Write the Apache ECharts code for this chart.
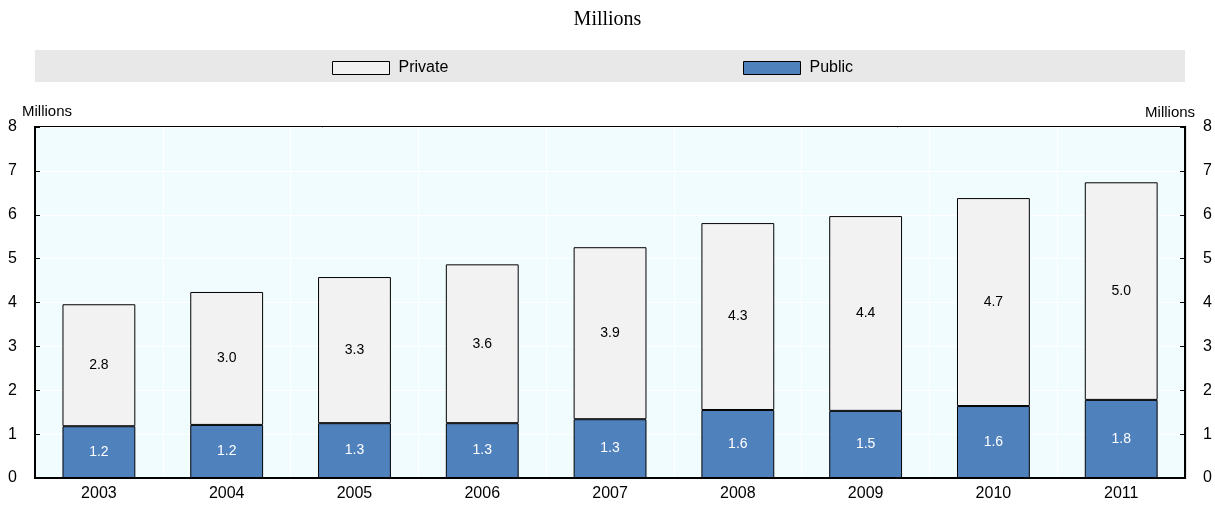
<!DOCTYPE html>
<html>
<head>
<meta charset="utf-8">
<script src="https://cdn.jsdelivr.net/npm/echarts@6/dist/echarts.min.js"></script>
<style>
	html, body { margin: 0; padding: 0; background: #fff; }
	#chart { width: 1215px; height: 505px; }
</style>
</head>
<body>
<div id="chart"></div>
<script>
const years = [ '2003', '2004', '2005', '2006', '2007', '2008', '2009', '2010', '2011' ];
const publicValues = [ 1.18, 1.21, 1.25, 1.25, 1.34, 1.55, 1.53, 1.64, 1.78 ];
const privateValues = [ 2.78, 3.03, 3.33, 3.62, 3.92, 4.26, 4.44, 4.74, 4.96 ];
const yTicks = [ 0, 1, 2, 3, 4, 5, 6, 7, 8 ];

const font = 'Liberation Sans, Arial, sans-serif';

const valueAxis = ( side ) => ( {
	type: 'value',
	position: side,
	min: yTicks[ 0 ],
	max: yTicks[ yTicks.length - 1 ],
	interval: 1,
	name: 'Millions',
	nameLocation: 'end',
	nameGap: 7,
	nameTextStyle: {
		fontFamily: font,
		fontSize: 15,
		color: '#000',
		align: side === 'left' ? 'left' : 'right',
		padding: side === 'left' ? [ 0, 0, 0, -13 ] : [ 0, -10, 0, 0 ]
	},
	axisLine: { show: true, lineStyle: { color: '#000', width: 2 } },
	axisTick: { show: true, inside: true, length: 5, lineStyle: { color: '#000', width: 1 } },
	axisLabel: { fontFamily: font, fontSize: 16, color: '#000', margin: 18 },
	splitLine: { show: side === 'left', lineStyle: { color: '#ffffff', width: 1 } }
} );

const legendFor = ( name, left ) => ( {
	data: [ name ],
	left,
	top: 55,
	icon: 'rect',
	itemWidth: 57,
	itemHeight: 13,
	itemGap: 9,
	itemStyle: { borderWidth: 1, borderColor: '#000' },
	textStyle: { fontFamily: font, fontSize: 16, color: '#000', padding: [ 0, 0, 0, 4 ] }
} );

const chart = echarts.init( document.getElementById( 'chart' ), null, { renderer: 'canvas' } );

chart.setOption( {
	animation: false,
	title: {
		text: 'Millions',
		left: 'center',
		top: 5,
		textStyle: { fontFamily: 'Liberation Serif, Times New Roman, serif', fontSize: 20, fontWeight: 'normal', color: '#000' }
	},
	graphic: [ {
		type: 'rect',
		left: 35,
		top: 50,
		shape: { width: 1150, height: 32 },
		style: { fill: '#e8e8e8' },
		z: -10
	} ],
	legend: [ legendFor( 'Private', 327 ), legendFor( 'Public', 738 ) ],
	grid: {
		left: 35,
		right: 25,
		top: 127,
		bottom: 27,
		show: true,
		backgroundColor: '#f0fcfe',
		borderColor: '#000',
		borderWidth: 2
	},
	xAxis: {
		type: 'category',
		data: years,
		axisLine: { show: true, lineStyle: { color: '#000', width: 2 } },
		axisTick: { show: false },
		axisLabel: { fontFamily: font, fontSize: 16, color: '#000', margin: 8 },
		splitLine: { show: true, lineStyle: { color: '#ffffff', width: 1 } }
	},
	yAxis: [ valueAxis( 'left' ), valueAxis( 'right' ) ],
	series: [ {
		name: 'Public',
		type: 'bar',
		stack: 'total',
		data: publicValues,
		barWidth: '57%',
		itemStyle: { color: '#4f81bd', borderColor: '#000', borderWidth: 1 },
		label: {
			show: true,
			position: 'inside',
			color: '#fff',
			fontFamily: font,
			fontSize: 14,
			formatter: ( p ) => p.value.toFixed( 1 )
		}
	}, {
		name: 'Private',
		type: 'bar',
		stack: 'total',
		data: privateValues,
		barWidth: '57%',
		itemStyle: { color: '#f2f2f2', borderColor: '#000', borderWidth: 1 },
		label: {
			show: true,
			position: 'inside',
			color: '#000',
			fontFamily: font,
			fontSize: 14,
			formatter: ( p ) => p.value.toFixed( 1 )
		}
	} ]
} );
</script>
</body>
</html>
